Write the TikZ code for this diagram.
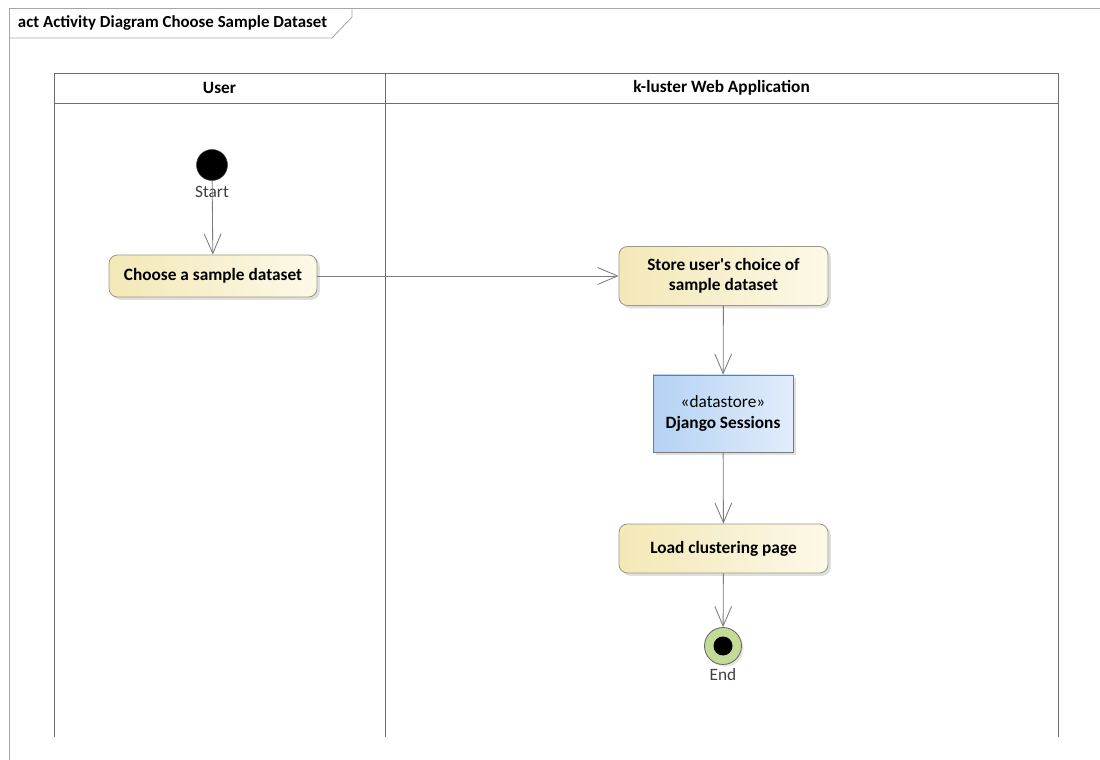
\documentclass[tikz,border=0pt]{standalone}
\usepackage{fontspec}
\setmainfont{Carlito}
\usetikzlibrary{arrows.meta,shadows}

\newcommand{\diagfont}{\fontsize{12.3}{14.5}\selectfont}

\definecolor{frameline}{HTML}{A6A6A6}
\definecolor{laneline}{HTML}{6E6E6E}
\definecolor{flowline}{HTML}{7A7A7A}
\definecolor{actleft}{HTML}{F3E8B6}
\definecolor{actright}{HTML}{FCF9E8}
\definecolor{actborder}{HTML}{9C9A84}
\definecolor{dsleft}{HTML}{B4D2F4}
\definecolor{dsright}{HTML}{E1EDFB}
\definecolor{endfill}{HTML}{C3DB97}

\tikzset{
  action/.style={draw=actborder, rounded corners=6, left color=actleft, right color=actright,
    font=\diagfont\bfseries, align=center, inner sep=0pt, line width=0.6pt,
    drop shadow={shadow xshift=2pt, shadow yshift=-2pt, fill=black!25}},
  datastore/.style={draw=flowline, left color=dsleft, right color=dsright,
    font=\diagfont, align=center, inner sep=0pt, line width=0.6pt,
    drop shadow={shadow xshift=2pt, shadow yshift=-2pt, fill=black!25}},
  lanehead/.style={font=\diagfont\bfseries},
  flow/.style={draw=flowline, line width=0.6pt, -{Straight Barb[length=14pt,width=12pt]}},
  caption/.style={font=\diagfont, text=black!75}
}

\begin{document}
\begin{tikzpicture}[x=0.025cm, y=-0.025cm, font=\diagfont]
   \useasboundingbox (0,0) rectangle (1100,760);

   % frame and title tab
   \draw [frameline, line width=0.6pt] (1100,8) -- (9,8) -- (9,760);
   \draw [frameline, line width=0.6pt] (9,38) -- (332,38) -- (352,17) -- (352,8);
   \node [anchor=west, font=\fontsize{12}{14}\selectfont\bfseries] (title) at (13,23) {act Activity Diagram Choose Sample Dataset};

   % swimlanes
   \draw [laneline, line width=0.6pt] (54,737) -- (54,73) -- (1058,73) -- (1058,737);
   \draw [laneline, line width=0.6pt] (54,103) -- (1058,103);
   \draw [laneline, line width=0.6pt] (385,73) -- (385,737);
   \node [lanehead] (userlane) at (219.5,88) {User};
   \node [lanehead] (applane) at (721.5,88) {k-luster Web Application};

   % start
   \node [circle, fill=black, draw=black!70, minimum size=31*0.025cm, inner sep=0pt] (start) at (212,165) {};
   \node [caption] (startlabel) at (212,192) {Start};

   % actions
   \node [action, minimum width=208*0.025cm, minimum height=42*0.025cm] (choose) at (213,276) {Choose a sample dataset};
   \node [action, minimum width=209*0.025cm, minimum height=59*0.025cm] (store) at (723.5,276) {Store user\textquotesingle s choice of\\sample dataset};
   \node [datastore, minimum width=140*0.025cm, minimum height=77*0.025cm] (sessions) at (723,413.5) {«datastore»\\\textbf{Django Sessions}};
   \node [action, minimum width=209*0.025cm, minimum height=49*0.025cm] (load) at (723.5,548.5) {Load clustering page};

   % end
   \node [circle, fill=endfill, draw=black!60, line width=0.6pt, minimum size=37*0.025cm, inner sep=0pt,
     drop shadow={shadow xshift=1.5pt, shadow yshift=-1.5pt, fill=black!20}] (end) at (723,646) {};
   \node [circle, fill=black, minimum size=19*0.025cm, inner sep=0pt] (endcore) at (end) {};
   \node [caption] (endlabel) at (723,675) {End};

   \draw [flow] (start) -- (choose);
   \draw [flow] (choose.east) -- (store.west);
   \draw [flow] (store) -- (sessions);
   \draw [flow] (sessions) -- (load);
   \draw [flow] (load) -- (end);

\end{tikzpicture}
\end{document}
